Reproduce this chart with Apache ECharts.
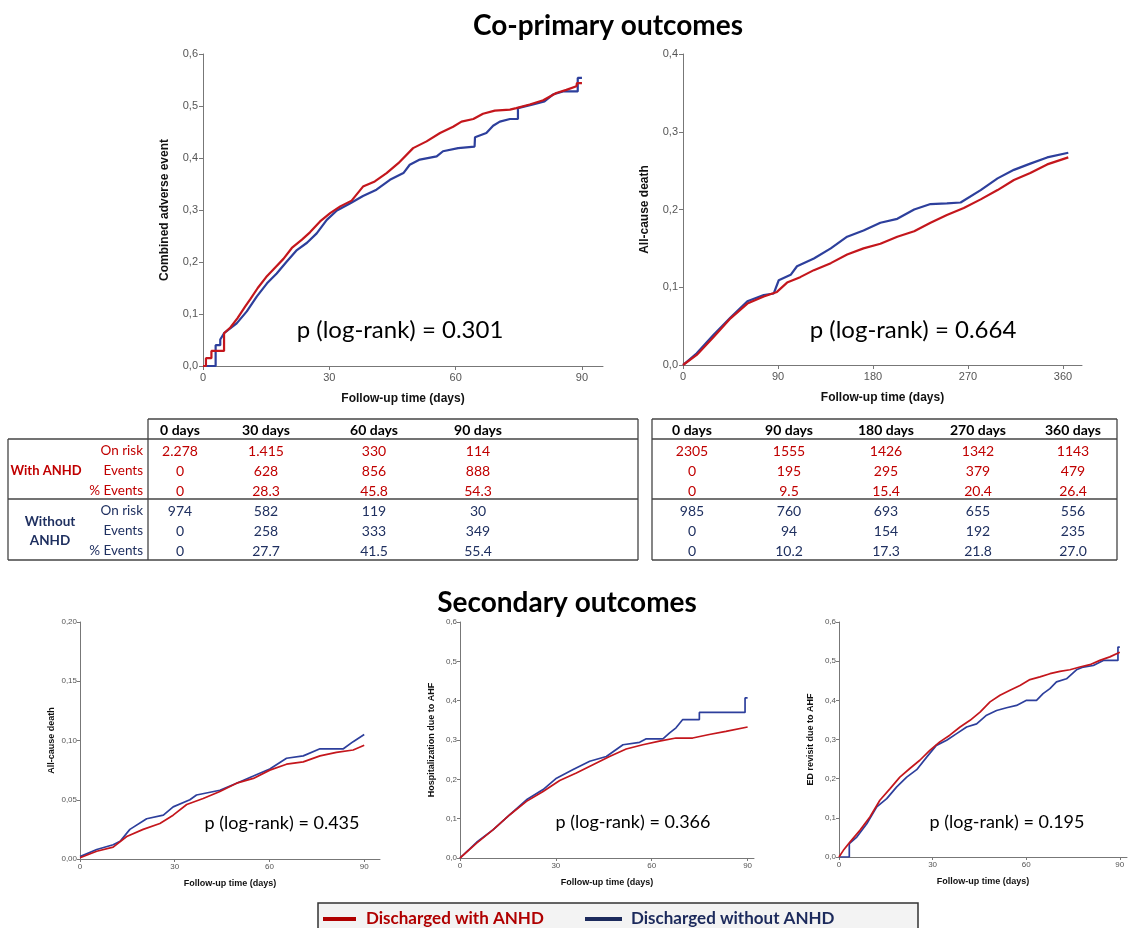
<!DOCTYPE html>
<html>
<head>
<meta charset="utf-8">
<script src="https://cdn.jsdelivr.net/npm/echarts@6/dist/echarts.min.js"></script>
<style>
  html, body { margin: 0; padding: 0; background: #fff; }
  #main { width: 1131px; height: 928px; }
</style>
</head>
<body>
<div id="main"></div>
<script>
// cumulative incidence curves [day, value]
var caeWith = [[0,0],[0.7,0],[0.7,0.015],[2,0.015],[2,0.029],[5,0.029],[5,0.063],[6.5,0.074],[8.2,0.092],[10,0.114],[11.2,0.128],[13,0.15],[15,0.171],[17.1,0.189],[19.1,0.206],[21.1,0.227],[23.5,0.243],[25.4,0.257],[27.8,0.278],[30.2,0.294],[32.6,0.307],[35.3,0.318],[38,0.345],[40.8,0.355],[43.6,0.371],[46.4,0.39],[49.9,0.419],[53.1,0.432],[56.3,0.448],[59.4,0.46],[61.4,0.47],[64.2,0.475],[66.5,0.485],[69.3,0.491],[72.9,0.493],[74.4,0.496],[77.6,0.503],[80.8,0.511],[83.9,0.525],[86.3,0.531],[88.7,0.538],[88.8,0.544],[90,0.544]];
var caeWithout = [[0,0],[3,0],[3,0.04],[4.1,0.04],[4.1,0.051],[5,0.063],[8,0.082],[10.4,0.105],[12.8,0.134],[15.2,0.159],[17.5,0.178],[19.9,0.201],[22.3,0.223],[24.7,0.237],[27,0.255],[29.4,0.281],[31.8,0.299],[35,0.313],[38,0.327],[41.2,0.339],[44.4,0.358],[47.6,0.371],[49.1,0.387],[51.5,0.397],[55.5,0.403],[57,0.413],[60.6,0.419],[64.5,0.422],[64.6,0.44],[67.3,0.448],[68.9,0.462],[70.5,0.47],[72.9,0.475],[74.8,0.475],[74.8,0.496],[78.4,0.503],[81.1,0.509],[83.1,0.522],[85.5,0.528],[89,0.528],[89,0.554],[90,0.554]];

var deathWith = [[0,0],[13,0.013],[29,0.036],[45,0.06],[61,0.079],[76.5,0.088],[89,0.094],[98.6,0.106],[111,0.113],[124,0.122],[140,0.131],[155.5,0.142],[171,0.15],[187,0.156],[203,0.165],[219,0.172],[234.5,0.183],[250,0.193],[266,0.202],[282,0.213],[298,0.225],[313.5,0.238],[329,0.247],[345,0.258],[365,0.267]];
var deathWithout = [[0,0],[13,0.015],[29,0.039],[45,0.061],[61,0.082],[76.5,0.09],[86,0.092],[90.7,0.109],[102,0.116],[108,0.127],[124,0.137],[140,0.15],[155.5,0.165],[171,0.173],[187,0.183],[203,0.188],[219,0.2],[234.5,0.207],[250,0.208],[263,0.209],[282,0.225],[298,0.24],[313.5,0.251],[329,0.259],[345,0.267],[365,0.273]];

var death90With = [[0,0.001],[5.3,0.0065],[10.5,0.01],[14.8,0.019],[20,0.025],[25.3,0.03],[29.5,0.037],[33.8,0.046],[39,0.051],[44.3,0.057],[49.6,0.064],[54.9,0.068],[60.1,0.075],[65.4,0.08],[70.7,0.082],[76,0.087],[81.2,0.09],[86.5,0.092],[90,0.096]];
var death90Without = [[0,0.002],[5.3,0.008],[10.5,0.012],[12.7,0.015],[15.8,0.025],[21.1,0.034],[26.4,0.037],[29.5,0.044],[34.8,0.05],[36.9,0.054],[44.3,0.058],[49.6,0.064],[54.9,0.07],[60.1,0.076],[65.4,0.085],[70.7,0.087],[76,0.093],[83.4,0.093],[86.5,0.099],[90,0.105]];

var hospWith = [[0,0],[5.2,0.038],[10.4,0.072],[15.6,0.11],[20.8,0.144],[26,0.169],[31.2,0.197],[36.4,0.216],[41.6,0.237],[46.8,0.258],[52,0.277],[57.2,0.288],[62.4,0.297],[67.6,0.305],[72.8,0.305],[78,0.314],[83.2,0.322],[90,0.333]];
var hospWithout = [[0,0],[5.2,0.04],[10.4,0.072],[15.6,0.11],[20.8,0.148],[26,0.174],[30.2,0.203],[35.4,0.225],[40.6,0.246],[45.8,0.258],[51,0.288],[56.2,0.294],[58.3,0.303],[63.5,0.303],[65.6,0.318],[67.6,0.331],[69.7,0.352],[74.9,0.352],[74.9,0.37],[89.2,0.37],[89.2,0.407],[90,0.407]];

var edWith = [[0,0],[1.4,0.017],[3.5,0.038],[6.7,0.068],[9.9,0.102],[13.1,0.145],[16.3,0.174],[19.5,0.204],[22.7,0.226],[25.9,0.247],[29.1,0.272],[32.3,0.294],[35.5,0.311],[38.8,0.332],[42,0.349],[45.2,0.37],[48.4,0.396],[51.6,0.413],[54.8,0.426],[58,0.438],[61.2,0.453],[64.4,0.46],[67.6,0.468],[70.8,0.474],[74,0.478],[77.2,0.485],[80.4,0.491],[83.6,0.502],[86.8,0.511],[90,0.523]];
var edWithout = [[0,0],[3.3,0],[3.3,0.034],[5.7,0.051],[8.9,0.085],[12.1,0.128],[15.3,0.149],[18.5,0.179],[21.7,0.204],[24.9,0.223],[28.1,0.255],[31.2,0.285],[34.5,0.298],[37.7,0.315],[40.9,0.332],[44.1,0.34],[47.3,0.362],[50.5,0.374],[53.7,0.381],[56.9,0.387],[60.1,0.4],[63.3,0.4],[65.4,0.417],[67.6,0.43],[69.7,0.447],[72.9,0.455],[76.1,0.478],[78.3,0.485],[81.5,0.489],[84.7,0.502],[89.4,0.502],[89.4,0.536],[90,0.536]];

// tick values
var ticks90 = [0, 30, 60, 90];
var ticks360 = [0, 90, 180, 270, 360];

// number at risk table
var leftDays = ['0 days', '30 days', '60 days', '90 days'];
var rightDays = ['0 days', '90 days', '180 days', '270 days', '360 days'];
var rowLabels = ['On risk', 'Events', '% Events'];
var withLeftRisk = ['2.278', '1.415', '330', '114'];
var withLeftEvents = ['0', '628', '856', '888'];
var withLeftPct = ['0', '28.3', '45.8', '54.3'];
var withoutLeftRisk = ['974', '582', '119', '30'];
var withoutLeftEvents = ['0', '258', '333', '349'];
var withoutLeftPct = ['0', '27.7', '41.5', '55.4'];
var withRightRisk = ['2305', '1555', '1426', '1342', '1143'];
var withRightEvents = ['0', '195', '295', '379', '479'];
var withRightPct = ['0', '9.5', '15.4', '20.4', '26.4'];
var withoutRightRisk = ['985', '760', '693', '655', '556'];
var withoutRightEvents = ['0', '94', '154', '192', '235'];
var withoutRightPct = ['0', '10.2', '17.3', '21.8', '27.0'];

var RED = '#c4161c', BLUE = '#2d3f9c';
var TRED = '#c00000', TBLUE = '#1f3060';
var CAL = 'Lato, "Open Sans", sans-serif';
var ARI = '"Liberation Sans", Arial, sans-serif';

var myChart = echarts.init(document.getElementById('main'), null, { renderer: 'canvas' });

// panels: grid box + axis setup
var panels = [
  { left: 203, top: 54, width: 400, height: 312, xmax: 95, ticks: ticks90, ymax: 0.6, yint: 0.1, dec: 1, yname: 'Combined adverse event', big: true, a: caeWith, b: caeWithout },
  { left: 683, top: 54, width: 399, height: 311, xmax: 378, ticks: ticks360, ymax: 0.4, yint: 0.1, dec: 1, yname: 'All-cause death', big: true, a: deathWith, b: deathWithout },
  { left: 80, top: 622, width: 300, height: 237, xmax: 95, ticks: ticks90, ymax: 0.2, yint: 0.05, dec: 2, yname: 'All-cause death', big: false, a: death90With, b: death90Without },
  { left: 460, top: 622, width: 294, height: 236, xmax: 92, ticks: ticks90, ymax: 0.6, yint: 0.1, dec: 1, yname: 'Hospitalization due to AHF', big: false, a: hospWith, b: hospWithout },
  { left: 839, top: 622, width: 288, height: 235, xmax: 92.3, ticks: ticks90, ymax: 0.6, yint: 0.1, dec: 1, yname: 'ED revisit due to AHF', big: false, a: edWith, b: edWithout }
];

var grids = [], xAxes = [], yAxes = [], series = [];
panels.forEach(function (p, i) {
  grids.push({ left: p.left, top: p.top, width: p.width, height: p.height });
  var fs = p.big ? 11 : 8;
  var nfs = p.big ? 12 : 9;
  xAxes.push({
    gridIndex: i, type: 'value', min: 0, max: p.xmax,
    name: 'Follow-up time (days)', nameLocation: 'middle', nameGap: p.big ? 27 : 20,
    nameTextStyle: { fontFamily: ARI, fontWeight: 'bold', fontSize: nfs, color: '#111' },
    axisLine: { show: true, lineStyle: { color: '#777', width: 1 } },
    axisTick: { show: true, length: p.big ? 4 : 3, customValues: p.ticks, lineStyle: { color: '#777' } },
    axisLabel: { customValues: p.ticks, fontFamily: ARI, fontSize: fs, color: '#555', margin: p.big ? 6 : 4 },
    splitLine: { show: false }
  });
  yAxes.push({
    gridIndex: i, type: 'value', min: 0, max: p.ymax, interval: p.yint,
    name: p.yname, nameLocation: 'middle', nameGap: p.big ? 32 : 24,
    nameTextStyle: { fontFamily: ARI, fontWeight: 'bold', fontSize: nfs, color: '#111' },
    axisLine: { show: true, lineStyle: { color: '#777', width: 1 } },
    axisTick: { show: true, length: p.big ? 4 : 3, lineStyle: { color: '#777' } },
    axisLabel: {
      fontFamily: ARI, fontSize: fs, color: '#555', margin: p.big ? 5 : 3,
      formatter: function (v) { return v.toFixed(p.dec).replace('.', ','); }
    },
    splitLine: { show: false }
  });
  series.push({
    type: 'line', xAxisIndex: i, yAxisIndex: i, data: p.b, showSymbol: false,
    lineStyle: { color: BLUE, width: p.big ? 2.2 : 1.7 }, silent: true, z: 2
  });
  series.push({
    type: 'line', xAxisIndex: i, yAxisIndex: i, data: p.a, showSymbol: false,
    lineStyle: { color: RED, width: p.big ? 2.2 : 1.7 }, silent: true, z: 3
  });
});

var g = [];
function txt(x, y, s, o) {
  g.push({
    type: 'text', x: x, y: y, silent: true,
    style: Object.assign({ text: s, fontFamily: CAL, fontSize: 14, fill: '#000', align: 'center', verticalAlign: 'middle' }, o || {})
  });
}
function line(x1, y1, x2, y2) {
  g.push({ type: 'line', silent: true, shape: { x1: x1, y1: y1, x2: x2, y2: y2 }, style: { stroke: '#444', lineWidth: 1.3 } });
}

// titles and p values
txt(608, 26, 'Co-primary outcomes', { fontSize: 28, fontWeight: 'bold' });
txt(567, 603, 'Secondary outcomes', { fontSize: 28, fontWeight: 'bold' });
txt(400, 330, 'p (log-rank) = 0.301', { fontSize: 24 });
txt(913, 330, 'p (log-rank) = 0.664', { fontSize: 24 });
txt(282, 823, 'p (log-rank) = 0.435', { fontSize: 18 });
txt(633, 822, 'p (log-rank) = 0.366', { fontSize: 18 });
txt(1007, 822, 'p (log-rank) = 0.195', { fontSize: 18 });

// table frames
line(148, 419, 638, 419); line(8, 439, 638, 439); line(8, 499, 638, 499); line(8, 560, 638, 560);
line(8, 439, 8, 560); line(148, 419, 148, 560); line(638, 419, 638, 560);
line(652, 419, 1117, 419); line(652, 439, 1117, 439); line(652, 499, 1117, 499); line(652, 560, 1117, 560);
line(652, 419, 652, 560); line(1117, 419, 1117, 560);

var rowY = [451, 471, 491, 511, 531, 551];
var leftX = [180, 266, 374, 478];
var rightX = [692, 789, 886, 978, 1073];
leftDays.forEach(function (d, j) { txt(leftX[j], 430, d, { fontWeight: 'bold' }); });
rightDays.forEach(function (d, j) { txt(rightX[j], 430, d, { fontWeight: 'bold' }); });
rowLabels.concat(rowLabels).forEach(function (r, k) {
  txt(143, rowY[k], r, { align: 'right', fontSize: 13.5, fill: k < 3 ? TRED : TBLUE });
});
txt(46, 471, 'With ANHD', { fontWeight: 'bold', fontSize: 13, fill: TRED });
txt(50, 531, 'Without\nANHD', { fontWeight: 'bold', fontSize: 13.5, fill: TBLUE, lineHeight: 19 });
[withLeftRisk, withLeftEvents, withLeftPct, withoutLeftRisk, withoutLeftEvents, withoutLeftPct].forEach(function (row, k) {
  row.forEach(function (v, j) { txt(leftX[j], rowY[k], v, { fill: k < 3 ? TRED : TBLUE }); });
});
[withRightRisk, withRightEvents, withRightPct, withoutRightRisk, withoutRightEvents, withoutRightPct].forEach(function (row, k) {
  row.forEach(function (v, j) { txt(rightX[j], rowY[k], v, { fill: k < 3 ? TRED : TBLUE }); });
});

// legend box
g.push({ type: 'rect', silent: true, shape: { x: 318, y: 903, width: 600, height: 30 }, style: { fill: '#f3f3f3', stroke: '#333', lineWidth: 1.5 } });
g.push({ type: 'line', silent: true, shape: { x1: 323, y1: 919, x2: 356, y2: 919 }, style: { stroke: '#b00000', lineWidth: 4 } });
txt(366, 919, 'Discharged with ANHD', { align: 'left', fontSize: 17, fontWeight: 'bold', fill: '#b00000' });
g.push({ type: 'line', silent: true, shape: { x1: 585, y1: 919, x2: 622, y2: 919 }, style: { stroke: '#1c2a5c', lineWidth: 4 } });
txt(631, 919, 'Discharged without ANHD', { align: 'left', fontSize: 17, fontWeight: 'bold', fill: '#1c2a5c' });

var option = {
  backgroundColor: '#fff',
  animation: false,
  grid: grids,
  xAxis: xAxes,
  yAxis: yAxes,
  series: series,
  graphic: g
};
myChart.setOption(option);
</script>
</body>
</html>
